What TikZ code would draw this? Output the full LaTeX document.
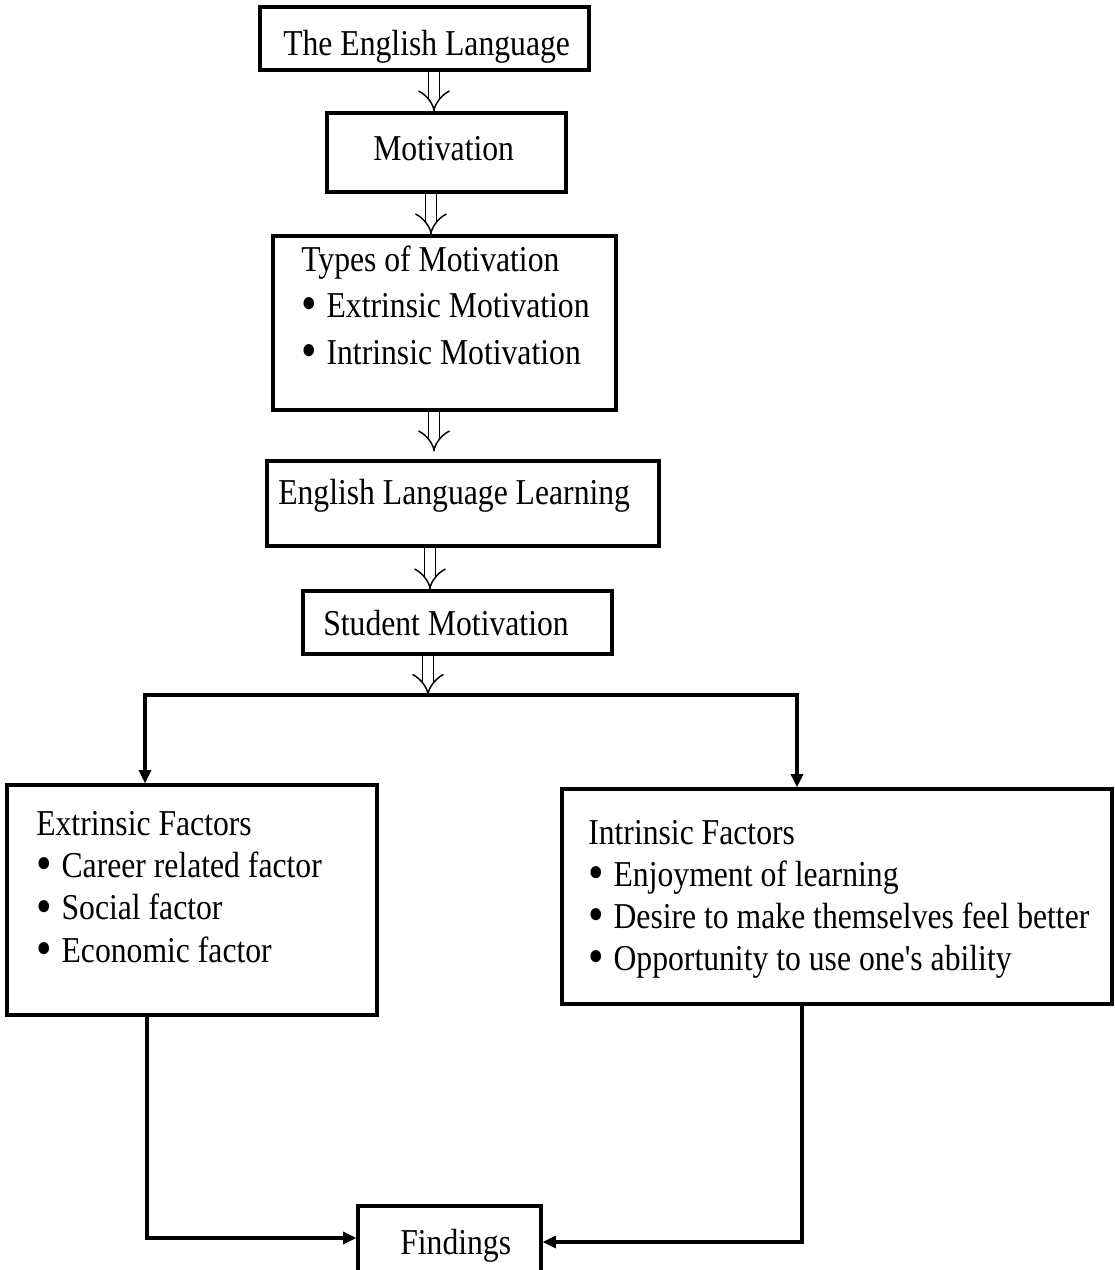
\documentclass[tikz,border=0pt]{standalone}
\usepackage{fontspec}
\setmainfont[FakeStretch=0.87,Ligatures=TeXOff]{Liberation Serif}
\usetikzlibrary{arrows.meta,fit}
\newcommand{\bul}{\makebox[19pt][l]{\smash{\raisebox{-2.4pt}{\scalebox{1.4}{\textbullet}}}}}

\begin{document}
\begin{tikzpicture}[x=0.75pt,y=-0.75pt]
\tikzstyle{box}=[draw,line width=2.4pt,inner sep=0pt]
\tikzstyle{txt}=[anchor=base west,inner sep=0pt,font=\fontsize{27.3}{30}\selectfont]
\tikzstyle{dbl}=[double,double distance=7.5pt,line width=1.1pt,-{Implies}]
\tikzstyle{conn}=[line width=2.4pt,-{Triangle[length=10pt,width=9pt]}]
\useasboundingbox (0,0) rectangle (1114,1270);
% boxes
\node[box,fit={(260,7) (589,70)}] (eng) {};
\node[box,fit={(327,113) (566,192)}] (mot) {};
\node[box,fit={(273,236) (616,410)}] (types) {};
\node[box,fit={(267,461) (659,546)}] (ell) {};
\node[box,fit={(303,591) (612,654)}] (stu) {};
\node[box,fit={(7,785) (377,1015)}] (ext) {};
\node[box,fit={(562,789) (1112,1004)}] (int) {};
\node[box,fit={(358,1206) (541,1320)}] (find) {};
% texts
\node[txt] (engT) at (283,56) {The English Language};
\node[txt] (motT) at (373,160) {Motivation};
\node[txt] (typesT) at (301,271) {Types of Motivation};
\node[txt] (types1) at (301,317) {\bul Extrinsic Motivation};
\node[txt] (types2) at (301,364) {\bul Intrinsic Motivation};
\node[txt] (ellT) at (278,504) {English Language Learning};
\node[txt] (stuT) at (323,635) {Student Motivation};
\node[txt] (extT) at (36,835) {Extrinsic Factors};
\foreach \t [count=\i] in {Career related factor,Social factor,Economic factor}
  \node[txt] (ext\i) at (36,835+42.4*\i) {\bul\t};
\node[txt] (intT) at (588,844) {Intrinsic Factors};
\foreach \t [count=\i] in {Enjoyment of learning,Desire to make themselves feel better,Opportunity to use one's ability}
  \node[txt] (int\i) at (588,844+42*\i) {\bul\t};
\node[txt] (findT) at (400,1254) {Findings};
% arrows
\coordinate (split) at (428,695);
\draw[dbl] (eng.south -| 434,0) -- (mot.north -| 434,0);
\draw[dbl] (mot.south -| 431,0) -- (types.north -| 431,0);
\draw[dbl,shorten >=6pt] (types.south -| 434,0) -- (ell.north -| 434,0);
\draw[dbl] (ell.south -| 430,0) -- (stu.north -| 430,0);
\draw[dbl] (stu.south -| 428,0) -- (split);
\draw[conn] (split) -| (ext.north -| 145,0);
\draw[conn] (split) -| (int.north -| 797,0);
\draw[conn] (ext.south -| 147,0) |- (find.west |- 0,1238);
\draw[conn] (int.south -| 802,0) |- (find.east |- 0,1242);
\end{tikzpicture}
\end{document}
